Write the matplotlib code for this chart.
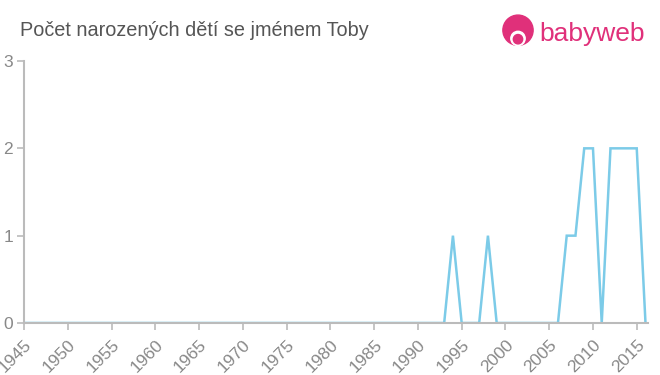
import matplotlib.pyplot as plt
from matplotlib.patches import Circle

plt.rcParams['font.family'] = ['Liberation Sans', 'DejaVu Sans']

# Data: number of children named Toby per year
years = list(range(1945, 2017))
counts = [0] * len(years)
nonzero = {1994: 1, 1998: 1, 2007: 1, 2008: 1, 2009: 2, 2010: 2,
           2012: 2, 2013: 2, 2014: 2, 2015: 2}
for y, c in nonzero.items():
    counts[years.index(y)] = c

xticks = list(range(1945, 2016, 5))
yticks = [0, 1, 2, 3]

fig = plt.figure(figsize=(6.6, 3.75), dpi=100)
ax = fig.add_axes([0.0364, 0.1387, 0.9456, 0.6986])

ax.plot(years, counts, color='#7ccbe8', lw=1.8, solid_joinstyle='miter')

ax.set_xlim(1945, 2016.3)
ax.set_ylim(0, 3)
ax.set_xticks(xticks)
ax.set_yticks(yticks)
ax.set_xticklabels([str(x) for x in xticks], rotation=45, ha='right',
                   rotation_mode='anchor', fontsize=12.5)
ax.set_yticklabels([str(y) for y in yticks], fontsize=12.5)
ax.tick_params(axis='both', colors='#bbbbbb', length=5, width=1.2)
ax.tick_params(axis='x', pad=5)
ax.tick_params(axis='y', pad=3)
for lbl in ax.get_xticklabels() + ax.get_yticklabels():
    lbl.set_color('#888888')

for side in ['top', 'right']:
    ax.spines[side].set_visible(False)
for side in ['left', 'bottom']:
    ax.spines[side].set_color('#bbbbbb')
    ax.spines[side].set_linewidth(1.5)

# Title
fig.text(20 / 660, 1 - 31 / 375, "Počet narozených dětí se jménem Toby",
         fontsize=14.3, color='#555555', ha='left', va='center')

# Logo (babyweb)
logo_ax = fig.add_axes([500 / 660, 1 - 50 / 375, 36 / 660, 36 / 375])
logo_ax.set_xlim(0, 1)
logo_ax.set_ylim(0, 1)
logo_ax.set_aspect('equal')
logo_ax.axis('off')
logo_ax.add_patch(Circle((0.5, 0.55), 0.42, color='#e0307a'))
logo_ax.add_patch(Circle((0.5, 0.32), 0.2, color='white'))
logo_ax.add_patch(Circle((0.5, 0.3), 0.13, color='#e0307a'))
fig.text(539 / 660, 1 - 34 / 375, "babyweb", fontsize=19, color='#e0307a',
         ha='left', va='center')

fig.savefig('out.png', dpi=100)
